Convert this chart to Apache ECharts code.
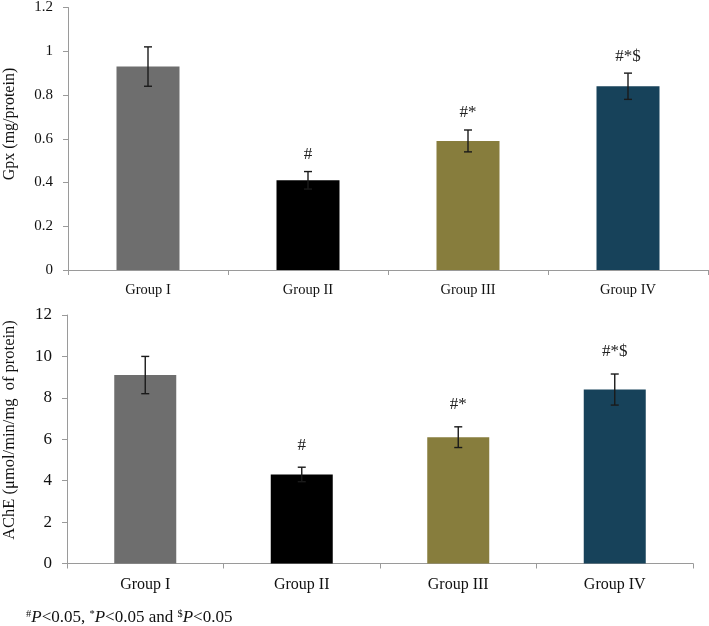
<!DOCTYPE html>
<html>
<head>
<meta charset="utf-8">
<script src="https://cdn.jsdelivr.net/npm/echarts@6/dist/echarts.min.js"></script>
<style>
html,body{margin:0;padding:0;background:#fff;}
#chart{width:709px;height:626px;}
</style>
</head>
<body>
<div id="chart"></div>
<script>
const categories = ['Group I', 'Group II', 'Group III', 'Group IV'];
const gpxMean = [0.93, 0.41, 0.59, 0.84];
const gpxErr = [0.09, 0.04, 0.05, 0.06];
const acheMean = [9.1, 4.3, 6.1, 8.4];
const acheErr = [0.9, 0.35, 0.5, 0.75];
const sigLabels = ['', '#', '#*', '#*$'];
const barColors = ['#6e6e6e', '#000000', '#877d3d', '#17425a'];
const gpxTicks = { min: 0, max: 1.2, interval: 0.2 };
const acheTicks = { min: 0, max: 12, interval: 2 };

const FONT = '"Liberation Serif", "Times New Roman", serif';
const AXIS_COLOR = '#9a9a9a';

function errData(mean, err) {
  return mean.map((m, i) => [i, m - err[i], m + err[i]]);
}

function makeErrRender(labelGap) {
  return function (params, api) {
    const x = api.value(0);
    const lo = api.value(1), hi = api.value(2);
    const label = sigLabels[params.dataIndex];
    const pHi = api.coord([x, hi]);
    const pLo = api.coord([x, lo]);
    const cap = 4;
    const st = { stroke: '#1a1a1a', lineWidth: 1.4 };
    const children = [
      { type: 'line', shape: { x1: pHi[0], y1: pHi[1], x2: pLo[0], y2: pLo[1] }, style: st },
      { type: 'line', shape: { x1: pHi[0] - cap, y1: pHi[1], x2: pHi[0] + cap, y2: pHi[1] }, style: st },
      { type: 'line', shape: { x1: pLo[0] - cap, y1: pLo[1], x2: pLo[0] + cap, y2: pLo[1] }, style: st }
    ];
    if (label) {
      children.push({
        type: 'text',
        style: {
          text: label, x: pHi[0], y: pHi[1] - labelGap,
          align: 'center', verticalAlign: 'middle',
          fontFamily: FONT, fontSize: 17, fill: '#222'
        }
      });
    }
    return { type: 'group', children: children };
  };
}

function xAxisCfg(gridIndex, fs) {
  return {
    type: 'category', gridIndex: gridIndex, data: categories,
    axisLine: { lineStyle: { color: AXIS_COLOR, width: 1 } },
    axisTick: { show: true, length: 5, lineStyle: { color: AXIS_COLOR } },
    axisLabel: { color: '#111', fontFamily: FONT, fontSize: fs, margin: 13 },
    splitLine: { show: false }
  };
}
function yAxisCfg(gridIndex, t, fs) {
  return {
    type: 'value', gridIndex: gridIndex, min: t.min, max: t.max, interval: t.interval,
    axisLine: { show: true, lineStyle: { color: AXIS_COLOR, width: 1 } },
    axisTick: { show: true, length: 5, lineStyle: { color: AXIS_COLOR } },
    axisLabel: { color: '#111', fontFamily: FONT, fontSize: fs, margin: 15 },
    splitLine: { show: false }
  };
}

const chart = echarts.init(document.getElementById('chart'), null, { renderer: 'canvas' });
chart.setOption({
  backgroundColor: '#ffffff',
  animation: false,
  grid: [
    { left: 68, right: 1, top: 7, bottom: 356 },
    { left: 67, right: 16, top: 315, bottom: 62.5 }
  ],
  xAxis: [xAxisCfg(0, 14.5), xAxisCfg(1, 16)],
  yAxis: [yAxisCfg(0, gpxTicks, 15), yAxisCfg(1, acheTicks, 17)],
  series: [
    {
      type: 'bar', xAxisIndex: 0, yAxisIndex: 0, barWidth: 63,
      data: gpxMean.map((v, i) => ({ value: v, itemStyle: { color: barColors[i] } })),
      z: 2
    },
    {
      type: 'custom', xAxisIndex: 0, yAxisIndex: 0, z: 5,
      renderItem: makeErrRender(17),
      data: errData(gpxMean, gpxErr)
    },
    {
      type: 'bar', xAxisIndex: 1, yAxisIndex: 1, barWidth: 62,
      data: acheMean.map((v, i) => ({ value: v, itemStyle: { color: barColors[i] } })),
      z: 2
    },
    {
      type: 'custom', xAxisIndex: 1, yAxisIndex: 1, z: 5,
      renderItem: makeErrRender(22),
      data: errData(acheMean, acheErr)
    }
  ],
  graphic: [
    {
      type: 'text', x: 10, y: 124, rotation: Math.PI / 2,
      style: { text: 'Gpx (mg/protein)', fontFamily: FONT, fontSize: 16, fill: '#111', align: 'center', verticalAlign: 'middle' }
    },
    {
      type: 'text', x: 10, y: 430, rotation: Math.PI / 2,
      style: { text: 'AChE (\u03bcmol/min/mg  of protein)', fontFamily: FONT, fontSize: 16.5, fill: '#111', align: 'center', verticalAlign: 'middle' }
    },
    {
      type: 'text', x: 26, y: 618,
      style: {
        text: '{sup|#}{it|P}{n|<0.05, }{sup|*}{it|P}{n|<0.05 and }{sup|$}{it|P}{n|<0.05}',
        verticalAlign: 'middle',
        rich: {
          sup: { fontFamily: FONT, fontSize: 10.5, fill: '#111', padding: [0, 0, 8, 0] },
          it: { fontFamily: FONT, fontSize: 17, fontStyle: 'italic', fill: '#111' },
          n: { fontFamily: FONT, fontSize: 17, fill: '#111' }
        }
      }
    }
  ]
});
</script>
</body>
</html>
